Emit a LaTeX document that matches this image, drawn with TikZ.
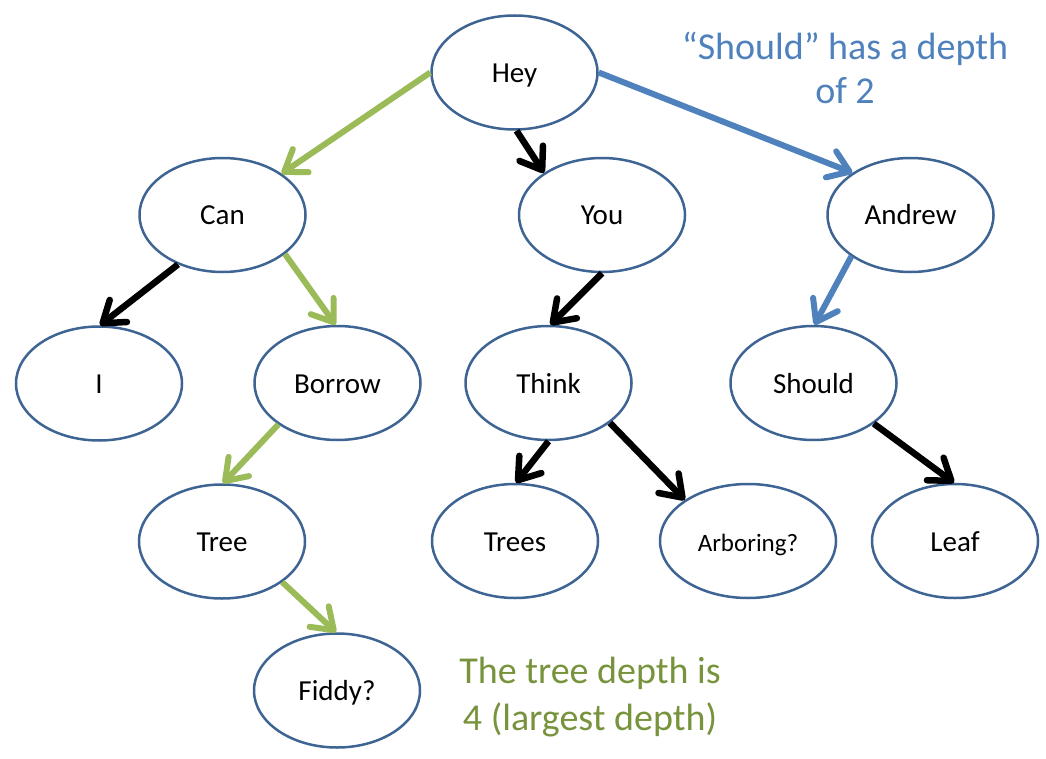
\documentclass[tikz,border=0pt]{standalone}
\usepackage{fontspec}
\setmainfont{Carlito}
\usetikzlibrary{shapes.geometric,arrows.meta}
\definecolor{nodeblue}{HTML}{3E6494}
\definecolor{arrgreen}{HTML}{9BBB59}
\definecolor{arrblue}{HTML}{4F81BD}
\definecolor{txtgreen}{HTML}{77933C}
\definecolor{txtblue}{HTML}{4F81BD}
\tikzset{
  ell/.style={ellipse, draw=nodeblue, line width=2.5pt, fill=white,
    minimum width=166pt, minimum height=114pt, inner sep=0pt,
    text height=20pt, text depth=0pt,
    font=\fontsize{29}{34}\selectfont},
  tip/.style={-{Straight Barb[length=20pt,width=28pt,round]}},
  karr/.style={tip, draw=black, line width=6.5pt},
  garr/.style={tip, draw=arrgreen, line width=6pt},
  barr/.style={tip, draw=arrblue, line width=6pt},
}
\begin{document}
\begin{tikzpicture}[x=1pt,y=-1pt]
\useasboundingbox (0,0) rectangle (1046,759);
\node[ell] (hey) at (514.5,72.5) {Hey};
\node[ell] (can) at (222.5,215) {Can};
\node[ell] (you) at (602,215) {You};
\node[ell] (andrew) at (910.5,215) {Andrew};
\node[ell] (i) at (99,383.5) {I};
\node[ell] (borrow) at (337.5,383) {Borrow};
\node[ell] (think) at (548.5,383) {Think};
\node[ell] (should) at (813.5,383) {Should};
\node[ell] (tree) at (222,541.5) {Tree};
\node[ell] (trees) at (515,541) {Trees};
\node[ell, minimum width=176pt, font=\fontsize{25}{30}\selectfont] (arboring) at (748,541) {Arboring?};
\node[ell] (leaf) at (955,541) {Leaf};
\node[ell] (fiddy) at (337,690.5) {Fiddy?};

\draw[garr] (hey.180) -- (can.35);
\draw[karr] (hey.272) -- (you.144);
\draw[barr] (hey.0) -- (andrew.144);
\draw[karr] (can.228) -- (i.89);
\draw[garr] (can.328) -- (borrow.92);
\draw[karr] (you.270) -- (think.88);
\draw[barr] (andrew.215) -- (should.89);
\draw[garr] (borrow.215) -- (tree.89);
\draw[karr] (think.270) -- (trees.89);
\draw[karr] (think.327) -- (arboring.147);
\draw[karr] (should.326) -- (leaf.91);
\draw[garr] (tree.326) -- (fiddy.91);

\node[font=\fontsize{38}{44}\selectfont, text=txtblue, align=center, anchor=base] (note1) at (845,104) {“Should” has a depth\\of 2};
\node[font=\fontsize{38}{47}\selectfont, text=txtgreen, align=center, anchor=base] (note2) at (590,730) {The tree depth is\\4 (largest depth)};
\end{tikzpicture}
\end{document}
